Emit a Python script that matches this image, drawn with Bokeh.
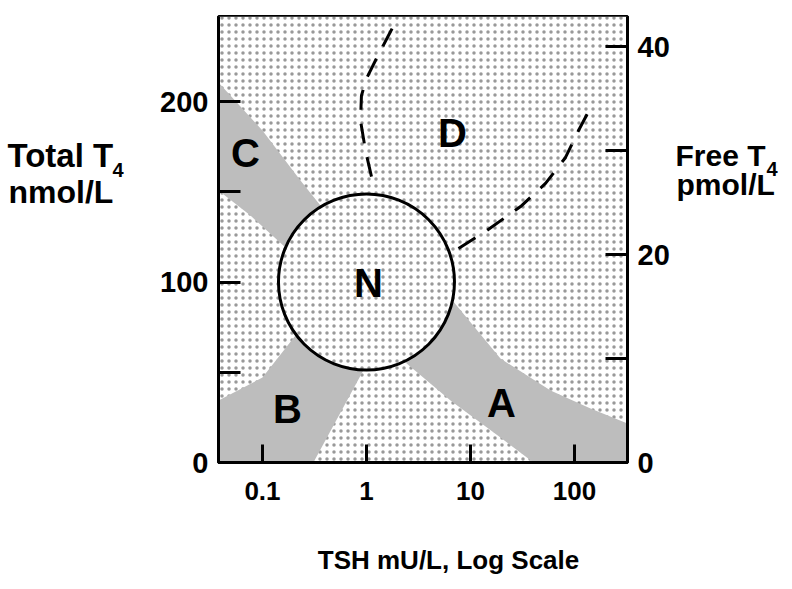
import numpy as np
from bokeh.plotting import figure
from bokeh.layouts import row, column
from bokeh.models import (Range1d, LinearAxis, FixedTicker, BoxAnnotation,
                          CustomJSTickFormatter)
from bokeh.embed import file_html
from bokeh.resources import INLINE
from bokeh.core.properties import value

# ---------------- data ----------------
tsh_ticks = [0.1, 1, 10, 100]
total_t4_major = [0, 100, 200]
total_t4_minor = [50, 150]
free_t4_major = [0, 20, 40]
free_t4_minor = [10, 30]

tsh_range = [0.0378, 323.0]
total_t4_range = [0.0, 247.1]
free_t4_range = [0.0, 42.9]

normal_tsh = [1.0]
normal_t4 = [100.0]

# diagonal band through normal region (C -> A)
band_ca_tsh = [0.0378, 0.1, 0.232, 0.361, 1.0, 6.71, 19.4, 58.8, 142.6, 323.0,
               323.0, 40.3, 19.4, 6.42, 2.37, 1.0, 0.1665, 0.0767, 0.0378]
band_ca_t4 = [210.5, 183.9, 156.2, 142.4, 111.9, 89.8, 57.6, 39.9, 29.9, 21.6,
              0.0, 0.0, 13.9, 34.3, 55.4, 89.8, 119.1, 136.8, 150.7]

# lower-left band (B)
band_b_tsh = [0.0378, 0.1, 0.2076, 0.451, 0.978, 0.309, 0.0378]
band_b_t4 = [34.3, 47.1, 70.4, 78.7, 53.2, 0.0, 0.0]

# dashed boundaries of region D
curve1_tsh = [1.117, 0.978, 0.876, 0.895, 1.0, 1.22, 1.627, 2.03]
curve1_t4 = [158.4, 172.9, 189.5, 203.3, 212.7, 222.7, 236.6, 247.1]
curve2_tsh = [7.67, 13.9, 30.3, 52.6, 81.9, 109.2, 133.4]
curve2_t4 = [118.6, 128.0, 141.8, 154.6, 169.0, 183.9, 193.4]

region_names = ["C", "D", "N", "B", "A"]
region_tsh = [0.0686, 6.71, 1.045, 0.174, 19.8]
region_t4 = [171.2, 182.3, 99.2, 29.9, 33.2]

left_title = ["Total T", "4", "nmol/L"]
right_title = ["Free T", "4", "pmol/L"]
x_title = "TSH mU/L, Log Scale"

# ---------------- layout ----------------
FONT = "Liberation Sans"
TOTAL_W = 788
MAIN_X0, MAIN_X1 = 148, 674        # main figure horizontal extent on page
FRAME_L, FRAME_R = 218, 627
FRAME_T, FRAME_B = 16, 462
MAIN_H = 518
PAGE_H = 584

p = figure(width=MAIN_X1 - MAIN_X0, height=MAIN_H, x_axis_type="log",
           x_range=Range1d(*tsh_range), y_range=Range1d(*total_t4_range),
           output_backend="svg", toolbar_location=None, title=None,
           min_border_left=FRAME_L - MAIN_X0, min_border_right=MAIN_X1 - FRAME_R,
           min_border_top=FRAME_T, min_border_bottom=MAIN_H - FRAME_B,
           background_fill_color="white", border_fill_color="white",
           outline_line_color="black", outline_line_width=3)
p.grid.visible = False

# sparse dotted background
bg = BoxAnnotation(level="underlay", fill_color="white", fill_alpha=1.0,
                   hatch_pattern="dot", hatch_scale=7, hatch_weight=1.0,
                   hatch_alpha=0.4, hatch_color="black", line_color=None)
p.add_layout(bg)

# dense bands
p.patch(band_ca_tsh, band_ca_t4, fill_color="#bdbdbd", line_color=None)
p.patch(band_b_tsh, band_b_t4, fill_color="#bdbdbd", line_color=None)

# normal circle
p.scatter(x=normal_tsh, y=normal_t4, marker="circle", size=176,
          fill_color="white", hatch_pattern="dot", hatch_scale=7,
          hatch_weight=1.0, hatch_alpha=0.4, hatch_color="black",
          line_color="black", line_width=3)

# dashed lines
p.line(curve1_tsh, curve1_t4, line_color="black", line_width=3, line_dash="20 14")
p.line(curve2_tsh, curve2_t4, line_color="black", line_width=3, line_dash="20 14")

# region letters
p.text(x=region_tsh, y=region_t4, text=region_names,
       text_font=value(FONT), text_font_style="bold", text_font_size="40px",
       text_align="center", text_baseline="middle", text_color="black")

# axes
xa = p.xaxis[0]
xa.ticker = FixedTicker(ticks=tsh_ticks, minor_ticks=[])
xa.formatter = CustomJSTickFormatter(code="return tick < 1 ? tick.toFixed(1) : tick.toFixed(0);")
ya = p.yaxis[0]
ya.ticker = FixedTicker(ticks=total_t4_major, minor_ticks=total_t4_minor)

p.extra_y_ranges = {"free": Range1d(*free_t4_range)}
ra = LinearAxis(y_range_name="free",
                ticker=FixedTicker(ticks=free_t4_major, minor_ticks=free_t4_minor))
p.add_layout(ra, "right")

for ax in (xa, ya, ra):
    ax.axis_line_width = 3
    ax.axis_line_color = "black"
    ax.major_tick_line_width = 3
    ax.minor_tick_line_width = 3
    ax.major_tick_line_color = "black"
    ax.minor_tick_line_color = "black"
    ax.major_tick_out = 0
    ax.minor_tick_out = 0
    ax.major_label_text_font = FONT
    ax.major_label_text_font_style = "bold"
    ax.major_label_text_color = "black"

for ax in (ya, ra):
    ax.major_tick_in = 22
    ax.minor_tick_in = 22
    ax.major_label_text_font_size = "29px"
    ax.major_label_standoff = 10
    ax.major_label_orientation = "horizontal"

xa.major_tick_in = 18
xa.minor_tick_in = 0
xa.major_label_text_font_size = "26px"
xa.major_label_standoff = 19


# ------------- text-only panels (page pixel coordinates) -------------
def text_panel(x0, x1, y0, y1):
    f = figure(width=x1 - x0, height=y1 - y0,
               frame_width=x1 - x0, frame_height=y1 - y0,
               x_range=Range1d(x0, x1), y_range=Range1d(y1, y0),
               output_backend="svg", toolbar_location=None, title=None,
               x_axis_location=None, y_axis_location=None,
               min_border=0, min_border_left=0, min_border_right=0,
               min_border_top=0, min_border_bottom=0,
               outline_line_color=None, background_fill_color="white",
               border_fill_color="white")
    f.grid.visible = False
    return f


def put(f, x, y_top, text, size, align="left"):
    f.text(x=[x], y=[y_top], text=[text], text_font=value(FONT),
           text_font_style="bold", text_font_size=size,
           text_align=align, text_baseline="top", text_color="black")


left = text_panel(0, MAIN_X0, 0, MAIN_H)
put(left, 7, 120, left_title[0], "33px")
put(left, 112, 146, left_title[1], "20px")
put(left, 8, 157, left_title[2], "32px")

right = text_panel(MAIN_X1, TOTAL_W, 0, MAIN_H)
put(right, 675, 122, right_title[0], "30px")
put(right, 766, 145, right_title[1], "20px")
put(right, 676, 151, right_title[2], "30px")

bottom = text_panel(0, TOTAL_W, MAIN_H, PAGE_H)
put(bottom, 448, 544, x_title, "26px", align="center")

layout = column(row(left, p, right, spacing=0), bottom, spacing=0)

open("out.html", "w").write(file_html(layout, INLINE))
